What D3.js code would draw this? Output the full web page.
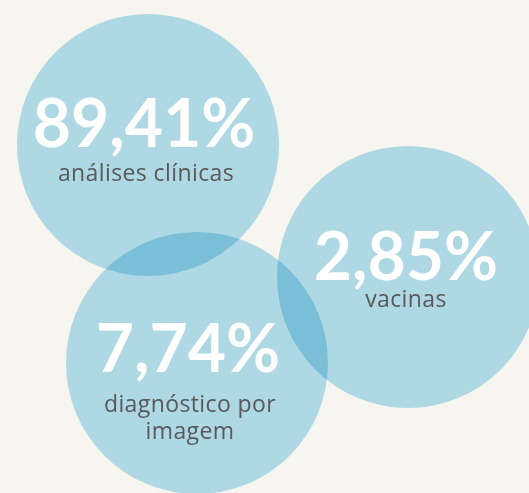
<!DOCTYPE html>
<html>
<head>
<meta charset="utf-8">
<script src="https://cdn.jsdelivr.net/npm/d3@7"></script>
<style>
  html, body { margin: 0; padding: 0; background: #f7f5f0; }
  svg { display: block; }
  .bubble { mix-blend-mode: multiply; }
</style>
</head>
<body>
<svg id="chart"></svg>
<script>
// share of spending by category
const categories = ["análises clínicas", "diagnóstico por imagem", "vacinas"]
const values = [89.41, 7.74, 2.85]
const labelLines = [["análises clínicas"], ["diagnóstico por", "imagem"], ["vacinas"]]

const width = 529, height = 493

// where each bubble sits (layout, not data)
const layout = [
    {cx: 148, cy: 145, tx: 144, ty: 147, lx: 146, ly: 181},
    {cx: 197, cy: 363, tx: 188, ty: 372, lx: 190, ly: 412},
    {cx: 408, cy: 277, tx: 406, ty: 280, lx: 406, ly: 307}
]

const svg = d3.select("#chart")
    .attr("width", width)
    .attr("height", height)

svg.append("rect")
    .attr("width", width)
    .attr("height", height)
    .attr("fill", "#f7f5f0")

// all bubbles are the same size in the original
const r = d3.scaleLinear().domain([0, 100]).range([131, 131])

const fmt = v => d3.format(".2f")(v).replace(".", ",") + "%"

const data = categories.map((c, i) => ({name: c, value: values[i], lines: labelLines[i], pos: layout[i]}))

svg.selectAll("circle.bubble")
    .data(data)
    .enter().append("circle")
    .attr("class", "bubble")
    .attr("cx", d => d.pos.cx)
    .attr("cy", d => d.pos.cy)
    .attr("r", d => r(d.value))
    .attr("fill", "#b4e1f2")

svg.selectAll("text.num")
    .data(data)
    .enter().append("text")
    .attr("class", "num")
    .text(d => fmt(d.value))
    .attr("x", d => d.pos.tx)
    .attr("y", d => d.pos.ty)
    .attr("text-anchor", "middle")
    .attr("font-family", "Lato, 'Open Sans', sans-serif")
    .attr("font-weight", 700)
    .attr("font-size", 66)
    .attr("fill", "#ffffff")

svg.selectAll("g.lbl")
    .data(data)
    .enter().append("g")
    .attr("class", "lbl")
    .attr("transform", d => `translate(${d.pos.lx},${d.pos.ly})`)
    .each(function(d) {
        d3.select(this).selectAll("text")
            .data(d.lines)
            .enter().append("text")
            .attr("text-anchor", "middle")
            .attr("y", (t, i) => i * 27)
            .attr("font-family", "'Open Sans', sans-serif")
            .attr("font-size", 23)
            .attr("letter-spacing", 0.4)
            .attr("fill", "#595959")
            .text(t => t)
    })
</script>
</body>
</html>
